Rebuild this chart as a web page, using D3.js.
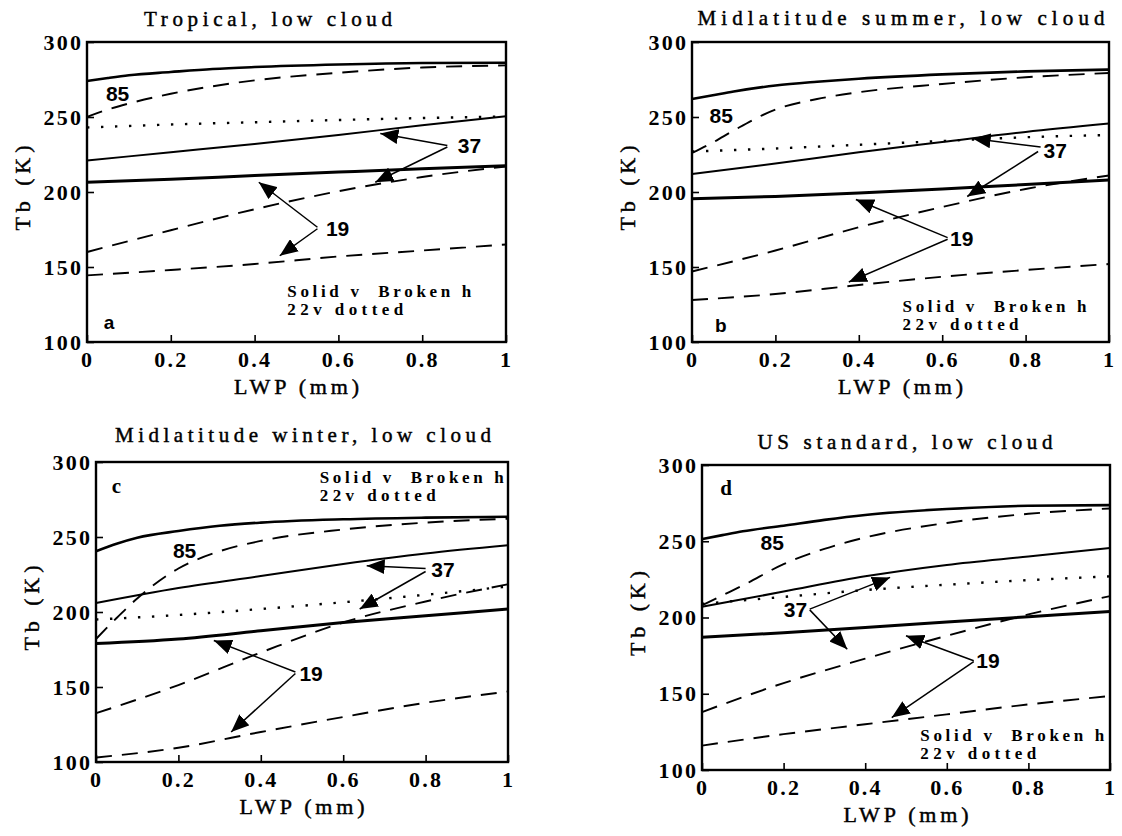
<!DOCTYPE html>
<html>
<head>
<meta charset="utf-8">
<script src="https://cdn.jsdelivr.net/npm/d3@7"></script>
<style>
  body { margin: 0; background: #fff; }
  svg { display: block; }
</style>
</head>
<body>
<div id="chart"></div>
<script>
// LWP grids (mm) and axis ticks
const lwp = [0, 0.2, 0.4, 0.6, 0.8, 1];
const lwpFine = [0, 0.05, 0.1, 0.2, 0.3, 0.4, 0.6, 0.8, 1];
const xTicks = [0, 0.2, 0.4, 0.6, 0.8, 1];
const yTicks = [100, 150, 200, 250, 300];

// (a) tropical
const tropV85 = [274, 276, 277.8, 280, 282, 283.3, 285, 286, 286.2];
const tropH85 = [250, 255, 259, 265.5, 270.5, 274.4, 279.5, 283, 284.4];
const tropV22 = [243, 245, 246.5, 248, 249.3, 250.3];
const tropV37 = [221, 226.5, 232, 238, 244.5, 250.5];
const tropH37 = [160, 174.5, 188.5, 200.5, 210, 217];
const tropV19 = [206.5, 208.5, 211, 213.3, 215.5, 217.5];
const tropH19 = [144.4, 148, 152, 157, 161, 165];

// (b) midlatitude summer
const sumV85 = [262, 264.5, 267, 271, 273.5, 275.5, 278.4, 280.4, 281.6];
const sumH85 = [226, 233, 241, 255, 262, 266.5, 272, 276.5, 279.3];
const sumV22 = [227, 229, 231.5, 234, 236.5, 238];
const sumV37 = [212, 219, 226.5, 233.3, 240, 245.6];
const sumH37 = [147, 161, 176.5, 190, 202, 211];
const sumV19 = [195.5, 197, 199.3, 202, 205, 208];
const sumH19 = [128, 132, 138, 143.5, 148, 152];

// (c) midlatitude winter
const winV85 = [240.5, 245.5, 249.5, 254, 257.5, 259.6, 261.8, 262.9, 263.5];
const winH85 = [182, 196, 209, 229, 240.5, 247.4, 255, 259.6, 262.2];
const winV22 = [195, 198, 202, 206.5, 211.5, 217];
const winV37 = [206, 216, 224, 232, 239, 244.5];
const winH37 = [132.5, 151.3, 173, 193, 207, 218.5];
const winV19 = [179, 182, 187.5, 193, 197.5, 202];
const winH19 = [103, 109.5, 120, 130, 139.5, 147];

// (d) US standard
const stdV85 = [251.4, 254, 256.5, 260.2, 264, 267.2, 271.1, 273.3, 273.7];
const stdH85 = [208, 214.5, 221, 235, 245, 252.5, 262, 268, 271.5];
const stdV22 = [209, 213.5, 218, 221.5, 224.5, 227];
const stdV37 = [207, 217, 227, 234.5, 240, 245.5];
const stdH37 = [138, 157, 173, 188, 202, 214];
const stdV19 = [187, 190, 193.5, 197, 200.5, 204];
const stdH19 = [116, 123.5, 130, 136.5, 143, 148.5];

// channel labels [text, lwp, Tb] and arrows [fromLwp, fromTb, toLwp, toTb]
const tropLabels = [["85", 0.073, 265.5], ["37", 0.913, 231], ["19", 0.598, 175.6]];
const tropArrows = [[0.86, 231, 0.70, 239], [0.86, 230, 0.688, 206.5], [0.55, 176.5, 0.41, 206.5], [0.55, 175.5, 0.46, 157.5]];
const sumLabels = [["85", 0.07, 251], ["37", 0.871, 227.8], ["19", 0.647, 169]];
const sumArrows = [[0.836, 230, 0.673, 235.6], [0.83, 227, 0.66, 197], [0.613, 169.6, 0.393, 195], [0.613, 168.5, 0.376, 140]];
const winLabels = [["85", 0.215, 240.8], ["37", 0.842, 228.6], ["19", 0.522, 159]];
const winArrows = [[0.80, 229, 0.657, 230.8], [0.80, 227, 0.64, 202], [0.484, 160, 0.286, 181], [0.484, 159, 0.328, 120]];
const stdLabels = [["85", 0.172, 249.2], ["37", 0.229, 205.5], ["19", 0.701, 171.6]];
const stdArrows = [[0.264, 205.5, 0.461, 226.3], [0.264, 205, 0.356, 179.2], [0.666, 171.6, 0.50, 188], [0.666, 171, 0.465, 134.4]];

const panels = [
  { id: "a", title: "Tropical, low cloud", left: 87, right: 506, top: 42, bottom: 342,
    titleX: 268, titleY: 26, titleW: 248, letterSerif: false, letterPos: [0.04, 113],
    legendPos: [0.478, 130],
    v85: tropV85, h85: tropH85, v22: tropV22, v37: tropV37, h37: tropH37, v19: tropV19, h19: tropH19,
    labels: tropLabels, arrows: tropArrows },
  { id: "b", title: "Midlatitude summer, low cloud", left: 692, right: 1109, top: 42, bottom: 342,
    titleX: 901, titleY: 25, titleW: 407, letterSerif: false, letterPos: [0.055, 111],
    legendPos: [0.505, 120],
    v85: sumV85, h85: sumH85, v22: sumV22, v37: sumV37, h37: sumH37, v19: sumV19, h19: sumH19,
    labels: sumLabels, arrows: sumArrows },
  { id: "c", title: "Midlatitude winter, low cloud", left: 96, right: 508, top: 462, bottom: 762,
    titleX: 303, titleY: 442, titleW: 376, letterSerif: true, letterPos: [0.038, 284],
    legendPos: [0.543, 286],
    v85: winV85, h85: winH85, v22: winV22, v37: winV37, h37: winH37, v19: winV19, h19: winH19,
    labels: winLabels, arrows: winArrows },
  { id: "d", title: "US standard, low cloud", left: 702, right: 1110, top: 465, bottom: 770,
    titleX: 905, titleY: 449, titleW: 295, letterSerif: true, letterPos: [0.045, 285],
    legendPos: [0.535, 119],
    v85: stdV85, h85: stdH85, v22: stdV22, v37: stdV37, h37: stdH37, v19: stdV19, h19: stdH19,
    labels: stdLabels, arrows: stdArrows }
];

const serif = "'Liberation Serif', 'DejaVu Serif', serif";
const sans = "'Liberation Sans', Arial, sans-serif";

const svg = d3.select("#chart").append("svg")
    .attr("width", 1122)
    .attr("height", 836);

svg.append("defs").append("marker")
    .attr("id", "head")
    .attr("viewBox", "0 0 18 15")
    .attr("refX", 18)
    .attr("refY", 7.5)
    .attr("markerWidth", 18)
    .attr("markerHeight", 15)
    .attr("markerUnits", "userSpaceOnUse")
    .attr("orient", "auto")
    .append("path")
    .attr("d", "M0,0 L18,7.5 L0,15 Z")
    .attr("fill", "#000");

const styles = {
    v85: { w: 2.6, dash: null },
    h85: { w: 1.9, dash: "16 10" },
    v22: { w: 2.4, dash: "2.4 11.6" },
    v37: { w: 2, dash: null },
    h37: { w: 1.9, dash: "16 10" },
    v19: { w: 3, dash: null },
    h19: { w: 1.9, dash: "16 10" }
};

panels.forEach(p => {
    const x = d3.scaleLinear().domain([0, 1]).range([p.left, p.right]);
    const y = d3.scaleLinear().domain([100, 300]).range([p.bottom, p.top]);
    const g = svg.append("g").attr("class", "panel-" + p.id);

    const line = d3.line()
        .x(d => x(d[0]))
        .y(d => y(d[1]))
        .curve(d3.curveMonotoneX);

    Object.keys(styles).forEach(key => {
        const vals = p[key];
        const xs = vals.length === lwpFine.length ? lwpFine : lwp;
        const pts = vals.map((v, i) => [xs[i], v]);
        g.append("path")
            .attr("d", line(pts))
            .attr("fill", "none")
            .attr("stroke", "#000")
            .attr("stroke-width", styles[key].w)
            .attr("stroke-dasharray", styles[key].dash);
    });

    // arrows from the channel labels
    p.arrows.forEach(a => {
        g.append("line")
            .attr("x1", x(a[0])).attr("y1", y(a[1]))
            .attr("x2", x(a[2])).attr("y2", y(a[3]))
            .attr("stroke", "#000")
            .attr("stroke-width", 1.5)
            .attr("marker-end", "url(#head)");
    });

    p.labels.forEach(l => {
        g.append("text")
            .attr("x", x(l[1])).attr("y", y(l[2]))
            .attr("text-anchor", "middle")
            .attr("dominant-baseline", "central")
            .attr("font-family", sans)
            .attr("font-weight", "bold")
            .attr("font-size", 21)
            .attr("fill", "#000")
            .text(l[0]);
    });

    // axes, ticks pointing inward
    const xAxis = d3.axisBottom(x).tickValues(xTicks)
        .tickFormat(d => d === 0 || d === 1 ? d3.format("d")(d) : d3.format(".1f")(d))
        .tickSizeInner(-7).tickSizeOuter(0).tickPadding(9);
    const yAxis = d3.axisLeft(y).tickValues(yTicks)
        .tickSizeInner(-7).tickSizeOuter(0).tickPadding(6);

    const gx = g.append("g").attr("transform", `translate(0,${p.bottom})`).call(xAxis);
    const gy = g.append("g").attr("transform", `translate(${p.left},0)`).call(yAxis);
    [gx, gy].forEach(ax => {
        ax.select(".domain").remove();
        ax.selectAll("line").attr("stroke-width", 1.6);
        ax.selectAll("text")
            .attr("font-family", serif)
            .attr("font-weight", "bold")
            .attr("font-size", 22)
            .attr("letter-spacing", 2.2)
            .attr("fill", "#000");
    });
    gy.selectAll("text").attr("dx", 2.2);

    // frame
    g.append("rect")
        .attr("x", p.left).attr("y", p.top)
        .attr("width", p.right - p.left).attr("height", p.bottom - p.top)
        .attr("fill", "none")
        .attr("stroke", "#000")
        .attr("stroke-width", 2.4);

    g.append("text")
        .attr("x", p.titleX).attr("y", p.titleY)
        .attr("text-anchor", "middle")
        .attr("font-family", serif)
        .attr("font-size", 21)
        .attr("stroke", "#000")
        .attr("stroke-width", 0.45)
        .attr("textLength", p.titleW)
        .text(p.title);

    g.append("text")
        .attr("x", (p.left + p.right) / 2).attr("y", p.bottom + 52)
        .attr("text-anchor", "middle")
        .attr("font-family", serif)
        .attr("font-size", 22)
        .attr("stroke", "#000")
        .attr("stroke-width", 0.45)
        .attr("textLength", 125)
        .text("LWP (mm)");

    g.append("text")
        .attr("transform", `translate(${p.left - 57},${(p.top + p.bottom) / 2 - 4}) rotate(-90)`)
        .attr("text-anchor", "middle")
        .attr("font-family", serif)
        .attr("font-size", 22)
        .attr("stroke", "#000")
        .attr("stroke-width", 0.45)
        .attr("textLength", 85)
        .text("Tb (K)");

    g.append("text")
        .attr("x", x(p.letterPos[0])).attr("y", y(p.letterPos[1]))
        .attr("dominant-baseline", "central")
        .attr("font-family", p.letterSerif ? serif : sans)
        .attr("font-weight", "bold")
        .attr("font-size", p.letterSerif ? 21 : 19)
        .text(p.id);

    // legend note
    const note = g.append("text")
        .attr("font-family", serif)
        .attr("font-weight", "bold")
        .attr("font-size", 17)
        .attr("fill", "#000");
    note.append("tspan")
        .attr("x", x(p.legendPos[0])).attr("y", y(p.legendPos[1]))
        .attr("textLength", 184)
        .attr("xml:space", "preserve")
        .text("Solid v  Broken h");
    note.append("tspan")
        .attr("x", x(p.legendPos[0])).attr("y", y(p.legendPos[1]) + 18)
        .attr("textLength", 116)
        .text("22v  dotted");
});
</script>
</body>
</html>
